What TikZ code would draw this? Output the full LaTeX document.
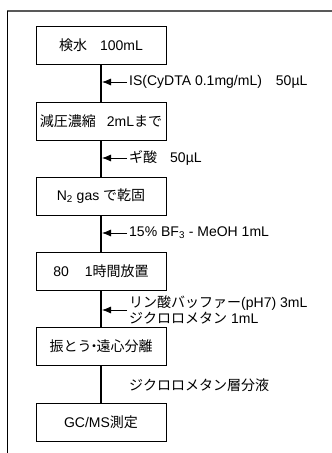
\documentclass[tikz,border=0pt]{standalone}
\usepackage{fontspec}
\setmainfont{Liberation Sans}
\newfontfamily\jp{Noto Sans CJK JP}
\newcommand{\J}[1]{{\jp #1}}
\usetikzlibrary{arrows.meta}
\begin{document}
\begin{tikzpicture}[x=1pt,y=-1pt,
  every node/.style={font=\fontsize{14}{17}\selectfont, inner sep=0pt},
  stepbox/.style={draw=black, line width=0.8pt, minimum width=130pt, minimum height=38pt, fill=white},
  flow/.style={line width=2pt},
  addarrow/.style={line width=0.8pt, -{Latex[length=9pt,width=7pt]}},
  lbl/.style={anchor=west, align=left}]
\useasboundingbox (0,0) rectangle (332,453);
\fill[white] (0,0) rectangle (332,453);
% frame
\draw[gray!70!black, line width=2pt] (7,11) -- (332,11);
\draw[black, line width=1pt] (7.5,11) -- (7.5,453);
% boxes
\node[stepbox] (b1) at (101,45) {\J{検水}\hspace{13pt}100mL};
\node[stepbox] (b2) at (101,121) {\J{減圧濃縮}\hspace{11pt}2mL\J{まで}};
\node[stepbox] (b3) at (101,196) {N\textsubscript{2} gas \J{で乾固}};
\node[stepbox] (b4) at (101,271) {80\hspace{16pt}1\J{時間放置}};
\node[stepbox] (b5) at (101,346.5) {\J{振とう}\hspace{-4.5pt}\J{・}\hspace{-4.5pt}\J{遠心分離}};
\node[stepbox] (b6) at (101,422.5) {GC/MS\J{測定}};
% flow lines
\draw[flow] (b1.south) -- (b2.north);
\draw[flow] (b2.south) -- (b3.north);
\draw[flow] (b3.south) -- (b4.north);
\draw[flow] (b4.south) -- (b5.north);
\draw[flow] (b5.south) -- (b6.north);
% labels
\node[lbl] (l1) at (129,82) {IS(CyDTA 0.1mg/mL)\hspace{14pt}50µL};
\node[lbl] (l2) at (129,158) {\J{ギ酸}\hspace{13pt}50µL};
\node[lbl] (l3) at (129,233) {15\% BF\textsubscript{3} - MeOH 1mL};
\node[lbl, font=\fontsize{14}{16.5}\selectfont] (l4) at (129,310) {\J{リン酸バッファー}(pH7) 3mL\\\J{ジクロロメタン} 1mL};
\node[lbl] (l5) at (129,385) {\J{ジクロロメタン層分液}};
% arrow targets on flow line
\coordinate (t1) at (102,82);
\coordinate (t2) at (102,158);
\coordinate (t3) at (102,233);
\coordinate (t4) at (102,310);
\draw[addarrow] ([xshift=-2pt]l1.west) -- (t1);
\draw[addarrow] ([xshift=-2pt]l2.west) -- (t2);
\draw[addarrow] ([xshift=-2pt]l3.west) -- (t3);
\draw[addarrow] ([xshift=-2pt]l4.west) -- (t4);
\end{tikzpicture}
\end{document}
